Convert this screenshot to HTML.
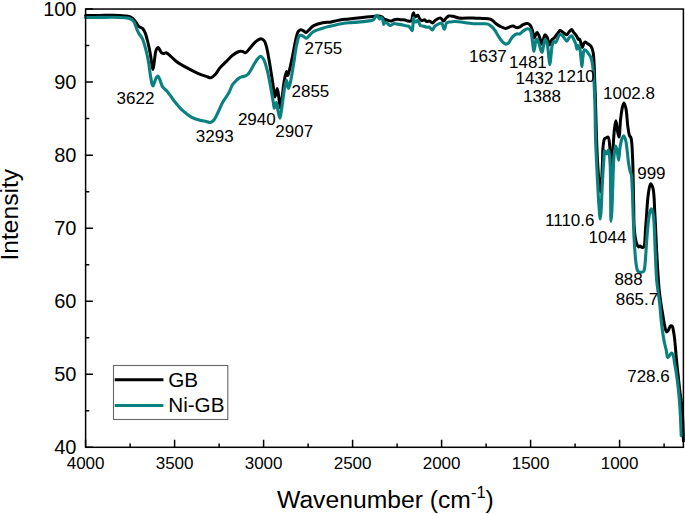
<!DOCTYPE html>
<html><head><meta charset="utf-8"><style>
html,body{margin:0;padding:0;background:#fff;}
body{width:685px;height:514px;overflow:hidden;}
svg{display:block;font-family:"Liberation Sans",sans-serif;}
</style></head><body>
<svg width="685" height="514" viewBox="0 0 685 514">
<rect width="685" height="514" fill="#fff"/>
<g fill="none" stroke-linejoin="round" stroke-linecap="round">
<path class="cv" d="M85.60,15.50 C85.60,15.50 95.40,15.45 100.00,15.40 C104.24,15.35 108.09,15.12 112.20,15.20 C116.42,15.28 121.60,15.48 125.00,15.90 C127.29,16.18 129.07,16.20 130.70,17.00 C132.24,17.75 133.52,19.19 134.60,20.40 C135.58,21.50 136.23,22.82 137.00,23.90 C137.69,24.87 138.14,25.87 139.00,26.60 C139.94,27.39 141.52,27.49 142.50,28.40 C143.61,29.43 144.33,30.95 145.10,32.70 C146.14,35.06 146.89,38.31 147.70,41.50 C148.64,45.22 149.57,49.62 150.30,53.70 C151.03,57.76 151.53,63.07 152.10,65.90 C152.41,67.43 152.70,69.41 153.00,69.40 C153.47,69.38 153.97,63.60 154.40,60.70 C154.83,57.80 155.06,54.19 155.60,52.00 C155.94,50.62 156.25,49.46 156.80,48.70 C157.19,48.16 157.75,47.52 158.20,47.60 C158.82,47.70 159.40,49.51 160.00,50.40 C160.57,51.24 161.04,52.26 161.70,52.80 C162.24,53.24 162.84,53.56 163.50,53.60 C164.28,53.65 165.17,52.64 166.10,52.80 C167.43,53.03 168.96,54.82 170.50,56.10 C172.36,57.64 174.04,59.74 176.40,61.50 C179.35,63.70 183.50,65.92 187.10,67.90 C190.63,69.84 194.40,71.83 197.80,73.30 C200.76,74.58 203.87,75.62 206.30,76.40 C208.08,76.97 209.52,77.99 211.00,77.70 C212.60,77.38 214.11,75.66 215.50,74.20 C217.11,72.50 218.20,69.93 219.90,67.90 C221.73,65.72 224.09,63.70 226.20,61.60 C228.32,59.50 230.36,57.03 232.60,55.30 C234.64,53.73 237.11,52.02 239.00,51.50 C240.32,51.14 241.51,51.25 242.60,51.50 C243.59,51.73 244.33,52.97 245.30,52.80 C246.80,52.54 248.65,49.47 250.30,47.70 C252.01,45.87 253.53,43.52 255.40,42.00 C257.12,40.61 259.39,38.76 261.00,38.80 C262.25,38.83 263.43,39.82 264.30,40.90 C265.41,42.28 265.82,44.46 266.50,46.90 C267.51,50.52 268.34,55.88 269.20,60.70 C270.14,65.97 271.03,71.77 271.90,77.30 C272.76,82.81 273.77,90.48 274.40,93.80 C274.67,95.25 274.79,96.90 275.10,96.90 C275.60,96.91 276.59,88.48 277.20,88.50 C277.79,88.52 278.23,93.50 278.70,96.40 C279.27,99.91 279.73,108.09 280.30,108.10 C280.81,108.11 281.35,102.50 281.90,98.90 C282.67,93.85 283.37,85.62 284.30,80.60 C284.97,77.02 285.88,71.51 286.50,71.50 C286.92,71.49 287.16,75.58 287.60,75.60 C288.08,75.62 288.71,72.80 289.30,70.70 C290.32,67.10 291.57,60.77 292.60,55.80 C293.63,50.84 294.43,45.29 295.50,40.90 C296.37,37.36 296.96,33.15 298.30,31.40 C299.04,30.43 300.02,29.87 300.90,29.80 C301.75,29.74 302.66,30.46 303.50,30.90 C304.36,31.35 305.19,32.55 306.00,32.50 C306.85,32.44 307.55,31.25 308.50,30.40 C309.86,29.20 311.27,27.10 313.30,25.90 C315.79,24.42 319.60,23.47 322.70,22.80 C325.60,22.18 328.44,22.38 331.30,21.90 C334.21,21.42 337.08,20.38 340.00,19.90 C342.91,19.42 345.87,19.32 348.80,19.00 C351.73,18.68 354.67,18.32 357.60,18.00 C360.51,17.68 363.58,17.38 366.30,17.10 C368.71,16.85 371.08,16.60 373.10,16.40 C374.73,16.24 376.04,15.93 377.50,16.00 C378.97,16.07 380.75,16.20 381.90,16.80 C382.86,17.30 383.25,18.47 384.10,19.00 C384.95,19.53 385.97,19.67 387.00,20.00 C388.15,20.37 389.48,21.15 390.70,21.10 C391.92,21.05 393.15,20.00 394.30,19.70 C395.30,19.44 396.17,19.30 397.20,19.30 C398.38,19.30 399.72,19.68 401.00,19.80 C402.29,19.92 403.63,19.78 404.90,20.00 C406.16,20.22 407.47,21.00 408.60,21.10 C409.53,21.18 410.55,21.37 411.20,20.80 C412.20,19.93 412.21,16.38 412.70,14.90 C413.00,13.98 413.30,12.68 413.60,12.70 C414.02,12.72 414.30,16.88 414.90,17.10 C415.22,17.22 415.59,16.66 416.00,16.40 C416.53,16.07 417.26,15.16 417.80,15.30 C418.51,15.49 418.89,17.65 419.60,18.60 C420.24,19.46 420.99,20.65 421.80,20.80 C422.56,20.94 423.48,19.62 424.30,19.70 C425.18,19.78 425.96,21.28 426.90,21.50 C427.80,21.72 428.90,20.87 429.80,21.10 C430.74,21.34 431.50,23.05 432.40,23.00 C433.46,22.94 434.43,20.83 435.70,20.00 C437.07,19.11 439.04,17.66 440.40,17.90 C441.68,18.13 442.75,21.17 443.70,21.10 C444.55,21.04 445.05,19.05 445.90,18.20 C446.75,17.35 447.67,16.34 448.80,16.00 C450.01,15.64 451.50,16.03 453.00,16.30 C454.79,16.62 456.40,17.66 458.80,18.00 C462.53,18.52 469.18,17.79 473.40,17.90 C476.65,17.98 479.17,18.20 482.00,18.40 C484.77,18.60 488.24,18.43 490.20,19.10 C491.45,19.52 492.07,20.19 493.00,20.90 C494.04,21.70 494.92,22.81 496.10,23.70 C497.44,24.72 499.12,25.81 500.70,26.60 C502.22,27.36 504.05,28.33 505.40,28.40 C506.38,28.45 507.20,28.01 508.00,27.70 C508.75,27.40 509.32,26.86 510.10,26.60 C510.97,26.31 511.97,25.98 513.00,26.10 C514.27,26.24 515.91,27.73 517.10,27.80 C518.00,27.85 518.65,27.50 519.50,27.10 C520.64,26.56 521.86,25.18 523.20,24.60 C524.53,24.02 526.27,23.41 527.50,23.60 C528.54,23.76 529.46,24.36 530.20,25.20 C531.16,26.29 531.67,28.17 532.30,30.00 C533.08,32.28 533.62,37.85 534.30,37.90 C534.73,37.93 535.11,35.81 535.60,34.90 C536.05,34.06 536.56,32.59 537.10,32.60 C537.78,32.62 538.61,34.87 539.30,36.40 C540.25,38.50 541.15,44.21 541.90,44.20 C542.51,44.19 542.93,40.54 543.50,38.90 C544.01,37.44 544.41,34.91 545.10,34.80 C545.71,34.70 546.67,36.29 547.30,37.50 C548.23,39.29 548.69,44.84 549.40,44.90 C549.86,44.94 550.32,42.83 550.80,41.90 C551.23,41.07 551.53,40.25 552.10,39.60 C552.67,38.95 553.51,38.71 554.20,38.00 C555.11,37.07 556.12,35.32 556.90,34.30 C557.46,33.56 557.89,33.04 558.40,32.40 C558.92,31.74 559.33,30.51 560.00,30.40 C560.78,30.28 561.86,31.64 562.90,32.30 C564.10,33.06 565.72,34.88 566.80,34.70 C567.78,34.54 568.37,32.70 569.20,31.80 C570.00,30.94 570.97,29.32 571.70,29.40 C572.43,29.48 572.93,31.40 573.60,32.30 C574.23,33.16 575.01,33.92 575.60,34.70 C576.12,35.39 576.55,35.95 577.00,36.70 C577.52,37.56 577.96,39.42 578.50,39.60 C578.82,39.70 579.20,38.98 579.50,39.10 C580.08,39.33 580.43,41.66 580.90,43.00 C581.40,44.42 581.90,47.40 582.40,47.40 C582.87,47.40 583.20,44.45 583.80,43.50 C584.23,42.82 584.69,42.06 585.30,42.00 C586.09,41.93 587.25,43.28 588.20,44.00 C589.18,44.74 590.33,45.28 591.10,46.40 C592.09,47.84 592.61,49.97 593.10,52.30 C593.77,55.49 593.87,60.08 594.10,63.90 C594.33,67.61 594.33,70.46 594.50,74.90 C594.76,81.73 595.21,91.92 595.50,100.90 C595.81,110.54 595.97,120.90 596.30,130.90 C596.63,140.90 596.98,151.91 597.50,160.90 C597.92,168.24 598.40,175.23 599.00,180.90 C599.45,185.12 600.07,191.91 600.50,191.90 C600.89,191.90 601.21,186.57 601.50,182.90 C601.95,177.18 602.23,167.36 602.50,160.90 C602.71,155.82 602.56,151.30 603.00,147.30 C603.36,144.09 603.65,140.00 604.60,138.70 C605.02,138.13 605.56,138.15 606.10,137.90 C606.71,137.62 607.57,136.81 608.10,137.10 C609.17,137.69 609.31,142.21 609.70,145.70 C610.29,151.00 610.26,158.74 610.50,165.90 C610.77,174.02 610.03,190.76 611.20,191.90 C611.38,192.07 611.62,192.07 611.80,191.90 C612.98,190.76 612.33,174.33 612.60,165.90 C612.86,157.92 612.99,149.59 613.40,142.60 C613.74,136.88 614.15,131.01 614.70,127.00 C615.05,124.45 615.49,120.79 615.90,120.80 C616.42,120.81 616.91,127.95 617.50,130.90 C617.97,133.23 618.57,137.13 619.00,137.10 C619.73,137.05 619.94,124.61 620.60,119.20 C621.15,114.68 621.72,109.74 622.50,106.80 C622.95,105.10 623.48,102.89 624.00,102.90 C624.61,102.91 625.36,105.99 625.90,108.40 C626.87,112.73 627.17,121.99 627.90,127.00 C628.40,130.42 628.74,133.69 629.50,135.60 C629.93,136.67 630.58,136.67 631.00,137.90 C632.14,141.24 632.23,151.24 632.60,158.20 C632.99,165.55 633.02,173.15 633.20,180.90 C633.39,189.03 633.54,198.03 633.70,205.90 C633.84,212.94 633.76,220.23 634.10,225.90 C634.35,230.12 634.70,233.72 635.20,236.90 C635.59,239.36 635.94,241.60 636.60,243.40 C637.11,244.79 637.77,246.70 638.50,246.90 C639.02,247.04 639.66,245.84 640.20,245.90 C640.77,245.96 641.19,247.24 641.80,247.40 C642.39,247.55 643.31,247.41 643.80,246.90 C644.57,246.09 644.55,243.90 644.80,241.90 C645.17,238.96 645.16,234.65 645.40,230.90 C645.65,226.99 645.93,223.61 646.30,218.90 C646.83,212.14 647.33,200.67 648.30,194.20 C648.94,189.94 649.61,183.83 650.60,183.70 C651.29,183.61 652.37,186.13 653.00,188.40 C654.37,193.30 654.26,204.01 654.80,212.90 C655.45,223.50 655.95,237.36 656.50,247.80 C656.95,256.29 657.31,263.48 657.80,270.90 C658.25,277.81 658.69,284.96 659.30,290.90 C659.79,295.71 660.42,299.97 661.00,303.90 C661.49,307.18 661.96,309.68 662.50,312.90 C663.12,316.61 663.72,321.45 664.50,324.90 C665.10,327.57 665.59,331.66 666.50,331.90 C667.07,332.05 667.89,330.74 668.50,329.90 C669.26,328.84 669.67,326.27 670.50,325.90 C671.03,325.66 671.83,325.91 672.30,326.40 C673.12,327.25 673.24,330.02 673.60,331.90 C673.98,333.85 674.23,335.75 674.50,337.90 C674.81,340.37 675.01,342.82 675.30,345.90 C675.69,350.12 676.12,355.90 676.60,360.90 C677.08,365.90 677.67,370.90 678.20,375.90 C678.73,380.90 679.25,386.41 679.80,390.90 C680.25,394.57 680.78,397.56 681.20,400.90 C681.62,404.23 682.03,407.56 682.30,410.90 C682.57,414.23 682.65,417.57 682.80,420.90 C682.95,424.23 683.10,427.57 683.20,430.90 C683.30,434.23 683.40,440.90 683.40,440.90" stroke="#000" stroke-width="3"/>
<path class="cv" d="M85.60,17.50 C85.60,17.50 95.40,17.43 100.00,17.40 C104.24,17.37 108.09,17.24 112.20,17.30 C116.42,17.37 121.79,17.50 125.00,17.80 C126.96,17.98 128.26,17.91 129.70,18.50 C131.17,19.10 132.73,20.19 133.70,21.40 C134.63,22.55 134.93,24.09 135.50,25.50 C136.10,26.98 136.58,28.69 137.20,30.10 C137.76,31.36 138.26,32.34 139.00,33.60 C139.94,35.19 141.47,36.64 142.50,38.80 C143.92,41.78 144.99,46.31 146.00,50.20 C147.03,54.18 147.88,58.31 148.60,62.40 C149.32,66.48 149.68,70.86 150.30,74.70 C150.85,78.11 151.45,82.43 152.10,84.30 C152.39,85.13 152.67,86.02 153.00,86.00 C153.50,85.97 154.12,83.14 154.70,81.70 C155.29,80.24 155.81,78.26 156.50,77.30 C156.93,76.70 157.44,76.02 157.90,76.10 C158.61,76.23 159.32,78.41 160.00,79.90 C160.90,81.85 161.35,84.95 162.60,86.90 C163.74,88.68 165.62,89.72 167.00,91.30 C168.42,92.92 169.76,94.82 171.00,96.50 C172.14,98.04 172.82,99.26 174.20,101.00 C176.32,103.67 179.80,107.93 182.80,110.70 C185.52,113.21 188.34,115.48 191.30,117.10 C194.05,118.61 197.21,119.58 199.90,120.30 C202.16,120.91 204.38,121.01 206.30,121.40 C207.88,121.72 209.27,122.71 210.60,122.40 C212.02,122.07 213.34,120.65 214.50,119.20 C216.00,117.33 217.00,114.36 218.30,111.70 C219.76,108.71 221.06,105.24 222.80,102.10 C224.61,98.84 227.30,95.62 229.00,92.50 C230.49,89.77 231.23,86.58 232.60,84.50 C233.64,82.93 234.88,81.91 236.00,80.80 C237.01,79.80 237.89,78.79 239.00,78.10 C240.07,77.44 241.39,77.06 242.50,76.70 C243.47,76.38 244.45,76.35 245.30,76.00 C246.10,75.67 246.83,75.29 247.50,74.70 C248.25,74.03 248.82,73.09 249.50,72.10 C250.32,70.91 251.20,69.38 252.00,68.00 C252.80,66.62 253.44,65.23 254.30,63.80 C255.25,62.23 256.37,60.33 257.50,59.00 C258.45,57.88 259.50,56.18 260.50,56.20 C261.53,56.22 262.69,57.83 263.60,59.30 C265.02,61.60 265.97,65.63 267.00,69.40 C268.26,74.03 269.28,79.78 270.30,85.10 C271.35,90.55 272.44,97.42 273.20,101.70 C273.68,104.40 273.85,108.26 274.40,108.30 C274.93,108.34 275.83,102.46 276.40,102.50 C277.07,102.55 277.40,108.04 278.00,110.70 C278.57,113.26 279.33,118.22 279.90,118.20 C280.50,118.18 280.94,113.27 281.50,109.90 C282.36,104.72 283.31,95.55 284.30,90.10 C285.00,86.22 285.79,80.20 286.50,80.20 C287.15,80.20 287.72,88.36 288.40,88.40 C288.94,88.43 289.53,85.68 290.10,83.50 C291.18,79.38 292.35,71.50 293.40,65.30 C294.49,58.85 295.30,50.89 296.50,45.50 C297.35,41.69 298.09,37.24 299.30,35.90 C299.82,35.32 300.38,35.19 301.00,35.20 C301.75,35.21 302.67,35.83 303.50,36.30 C304.43,36.83 305.35,38.35 306.30,38.30 C307.35,38.25 308.41,36.52 309.50,35.50 C310.73,34.35 311.60,32.79 313.30,31.70 C315.62,30.21 319.61,29.17 322.70,28.20 C325.61,27.29 328.42,26.72 331.30,26.00 C334.19,25.28 337.08,24.45 340.00,23.90 C342.91,23.35 345.86,23.00 348.80,22.70 C351.73,22.40 354.60,22.36 357.60,22.10 C360.76,21.83 364.49,21.51 367.30,21.10 C369.49,20.78 371.87,20.73 373.10,20.00 C373.88,19.54 374.06,18.88 374.60,18.20 C375.27,17.35 376.10,15.31 376.80,15.30 C377.42,15.29 378.08,16.83 378.60,17.50 C379.02,18.04 379.28,18.97 379.70,19.00 C380.14,19.03 380.71,17.49 381.20,17.50 C381.68,17.51 382.23,18.27 382.60,19.00 C383.21,20.19 383.13,24.28 383.70,24.40 C384.10,24.48 384.59,22.37 385.20,22.20 C385.72,22.05 386.34,22.61 387.00,23.00 C387.96,23.57 389.17,25.42 390.30,25.50 C391.37,25.58 392.38,23.95 393.60,23.70 C394.92,23.43 396.44,23.88 398.00,24.10 C399.81,24.35 402.24,24.82 403.80,25.20 C404.88,25.46 405.65,25.83 406.50,26.00 C407.24,26.14 407.95,25.86 408.60,26.20 C409.42,26.63 410.14,28.01 410.80,28.80 C411.35,29.45 411.90,30.73 412.30,30.60 C413.24,30.30 412.85,17.55 413.40,17.50 C413.71,17.47 413.85,20.86 414.50,21.50 C414.90,21.89 415.51,22.01 416.00,21.90 C416.61,21.77 417.23,20.28 417.80,20.40 C418.69,20.59 419.09,24.58 420.30,25.50 C421.28,26.25 422.85,25.88 424.00,26.20 C425.04,26.49 425.99,27.20 426.90,27.30 C427.67,27.39 428.35,26.77 429.10,27.00 C430.16,27.32 431.44,30.02 432.40,29.90 C433.37,29.78 433.80,27.22 434.90,26.20 C436.07,25.12 438.06,24.24 439.30,23.70 C440.14,23.33 440.83,22.71 441.50,23.00 C442.65,23.51 443.54,29.24 444.40,29.20 C445.24,29.16 445.37,24.17 446.60,23.00 C447.54,22.11 448.98,22.15 450.30,21.90 C451.76,21.62 452.92,21.46 455.00,21.50 C459.12,21.57 468.10,23.38 473.40,23.70 C477.41,23.94 481.31,23.57 484.00,23.70 C485.65,23.78 486.76,23.65 488.00,24.10 C489.27,24.56 490.39,25.52 491.50,26.50 C492.74,27.60 493.94,29.04 495.00,30.50 C496.11,32.03 496.98,33.89 498.00,35.50 C498.98,37.05 500.00,38.71 501.00,40.00 C501.83,41.08 502.60,42.10 503.50,42.80 C504.28,43.41 505.16,44.07 506.00,44.10 C506.83,44.13 507.75,43.65 508.50,43.00 C509.48,42.15 510.12,40.21 511.00,39.00 C511.80,37.90 512.56,36.84 513.50,36.00 C514.40,35.19 515.41,34.37 516.50,34.00 C517.58,33.64 518.93,34.24 520.00,33.80 C521.18,33.32 522.00,31.83 523.20,31.00 C524.48,30.11 526.23,28.73 527.50,28.70 C528.50,28.68 529.52,29.16 530.20,30.00 C531.21,31.24 531.33,33.88 531.80,36.40 C532.46,39.92 532.96,46.71 533.40,49.20 C533.58,50.24 533.71,51.40 533.90,51.40 C534.20,51.40 534.66,47.84 535.00,46.00 C535.36,44.08 535.40,41.20 536.00,40.10 C536.30,39.55 536.75,39.02 537.10,39.10 C537.68,39.22 538.17,41.33 538.70,42.80 C539.44,44.84 540.18,48.60 540.90,50.30 C541.30,51.25 541.74,52.45 542.10,52.40 C542.69,52.31 543.00,48.13 543.50,46.00 C544.00,43.86 544.38,39.75 545.10,39.60 C545.56,39.51 546.27,40.71 546.70,41.70 C547.43,43.37 547.62,46.47 548.00,49.20 C548.45,52.44 548.72,57.04 549.10,59.90 C549.36,61.82 549.63,64.71 549.90,64.70 C550.27,64.69 550.64,58.67 551.00,55.60 C551.37,52.44 551.49,48.54 552.10,46.00 C552.52,44.25 552.88,42.11 553.70,41.70 C554.26,41.41 555.19,42.58 555.80,42.30 C556.75,41.86 557.24,38.93 558.00,37.50 C558.65,36.28 559.16,34.38 560.00,34.20 C560.81,34.03 561.93,35.29 562.90,36.20 C564.19,37.41 565.68,41.13 566.80,41.10 C567.72,41.07 568.32,38.63 569.20,37.70 C569.97,36.88 570.99,35.56 571.70,35.70 C572.48,35.85 572.98,37.88 573.60,39.10 C574.29,40.46 575.05,41.90 575.60,43.50 C576.21,45.27 576.57,49.30 577.00,49.30 C577.36,49.30 577.50,45.50 578.00,45.40 C578.40,45.32 579.09,46.41 579.50,47.40 C580.31,49.36 580.50,53.86 580.90,57.10 C581.30,60.33 581.57,66.80 581.90,66.80 C582.23,66.80 582.46,60.10 582.90,57.10 C583.28,54.49 583.41,50.32 584.30,49.80 C584.71,49.56 585.29,49.95 585.80,50.30 C586.58,50.84 587.42,52.14 588.20,53.20 C589.06,54.38 590.06,55.67 590.70,57.10 C591.38,58.60 591.69,59.96 592.10,62.00 C592.75,65.28 593.19,69.94 593.60,75.00 C594.17,82.07 594.48,91.04 594.80,100.50 C595.20,112.34 595.24,129.46 595.60,140.50 C595.85,148.31 596.15,153.16 596.50,160.50 C596.93,169.49 597.48,181.51 598.00,190.50 C598.42,197.84 598.88,205.24 599.30,210.50 C599.57,213.93 599.79,218.99 600.10,219.00 C600.37,219.01 600.74,215.32 601.00,212.50 C601.47,207.34 601.64,197.66 602.00,190.50 C602.34,183.67 602.73,176.45 603.10,170.50 C603.40,165.70 603.71,161.12 604.00,157.50 C604.21,154.90 604.00,150.95 604.60,150.80 C605.05,150.69 605.97,153.94 606.60,153.90 C607.28,153.86 607.99,149.92 608.50,150.00 C609.31,150.13 609.64,156.36 610.00,160.90 C610.59,168.34 610.43,180.52 610.60,190.50 C610.77,200.71 610.63,221.49 611.00,221.50 C611.20,221.51 611.56,216.31 611.80,212.50 C612.21,205.92 612.45,194.56 612.80,185.50 C613.15,176.33 613.26,165.06 613.90,157.80 C614.32,153.06 614.77,146.18 615.50,146.10 C615.93,146.05 616.56,148.37 617.00,150.00 C617.69,152.55 618.11,160.11 618.60,160.10 C619.16,160.09 619.42,150.81 620.10,146.90 C620.65,143.71 621.28,140.29 622.10,138.30 C622.58,137.13 623.17,135.67 623.70,135.70 C624.35,135.74 625.09,138.15 625.60,139.90 C626.36,142.50 626.62,146.35 627.10,150.00 C627.66,154.28 628.08,160.07 628.70,164.00 C629.15,166.90 629.66,169.56 630.20,171.50 C630.55,172.77 631.00,173.14 631.30,174.60 C631.96,177.82 632.01,184.55 632.30,190.50 C632.67,198.10 632.88,208.01 633.20,216.50 C633.51,224.66 633.78,233.08 634.20,240.50 C634.57,246.93 635.03,253.70 635.50,258.50 C635.82,261.70 636.09,264.30 636.50,266.50 C636.79,268.07 636.95,269.54 637.50,270.50 C637.89,271.19 638.37,271.70 639.00,272.00 C639.68,272.33 640.73,272.40 641.50,272.30 C642.22,272.21 643.01,272.02 643.50,271.50 C644.09,270.87 644.22,269.81 644.50,268.50 C645.00,266.16 645.19,262.17 645.50,258.50 C645.87,254.01 646.15,248.32 646.50,243.50 C646.82,239.01 647.14,234.55 647.50,230.50 C647.81,226.95 648.07,223.74 648.50,220.50 C648.91,217.41 649.34,213.59 650.00,211.50 C650.38,210.30 650.87,208.80 651.30,208.80 C651.73,208.80 652.25,210.43 652.60,211.50 C653.05,212.89 653.25,214.58 653.50,216.50 C653.83,219.06 653.99,221.91 654.20,225.50 C654.51,230.85 654.74,239.10 655.00,245.50 C655.24,251.40 655.42,256.75 655.70,262.50 C655.99,268.42 656.21,274.99 656.70,280.50 C657.12,285.19 657.77,289.57 658.30,293.50 C658.74,296.78 659.19,298.98 659.60,302.50 C660.18,307.46 660.50,314.35 661.20,320.50 C661.94,327.00 662.98,335.00 664.00,340.50 C664.72,344.42 665.65,347.46 666.30,350.50 C666.85,353.04 666.92,357.29 667.70,357.50 C668.18,357.63 668.89,356.21 669.50,355.50 C670.16,354.72 670.86,353.04 671.50,353.00 C672.02,352.97 672.60,353.75 673.00,354.50 C673.68,355.78 673.83,358.50 674.20,360.50 C674.57,362.50 674.87,364.50 675.20,366.50 C675.53,368.50 675.87,370.35 676.20,372.50 C676.58,374.97 676.94,377.68 677.30,380.50 C677.71,383.65 678.15,387.16 678.50,390.50 C678.85,393.83 679.13,397.17 679.40,400.50 C679.67,403.83 679.90,407.17 680.10,410.50 C680.30,413.83 680.45,417.17 680.60,420.50 C680.75,423.83 680.89,427.71 681.00,430.50 C681.08,432.51 681.20,435.70 681.20,435.70" stroke="#0b8080" stroke-width="3.1"/>
</g>
<rect x="85.60" y="9.05" width="597.80" height="438.25" fill="none" stroke="#000" stroke-width="1.5"/>
<path d="M85.60,447.30 V439.80 M174.60,447.30 V439.80 M263.60,447.30 V439.80 M352.60,447.30 V439.80 M441.60,447.30 V439.80 M530.60,447.30 V439.80 M619.60,447.30 V439.80 M130.10,447.30 V443.60 M219.10,447.30 V443.60 M308.10,447.30 V443.60 M397.10,447.30 V443.60 M486.10,447.30 V443.60 M575.10,447.30 V443.60 M664.10,447.30 V443.60 M85.60,447.29 H92.90 M85.60,374.25 H92.90 M85.60,301.21 H92.90 M85.60,228.17 H92.90 M85.60,155.13 H92.90 M85.60,82.09 H92.90 M85.60,9.05 H92.90 M85.60,410.77 H89.30 M85.60,337.73 H89.30 M85.60,264.69 H89.30 M85.60,191.65 H89.30 M85.60,118.61 H89.30 M85.60,45.57 H89.30" stroke="#000" stroke-width="1.5" fill="none"/>
<g fill="#000">
<text x="76.5" y="454.49" text-anchor="end" font-size="20">40</text>
<text x="76.5" y="381.45" text-anchor="end" font-size="20">50</text>
<text x="76.5" y="308.41" text-anchor="end" font-size="20">60</text>
<text x="76.5" y="235.37" text-anchor="end" font-size="20">70</text>
<text x="76.5" y="162.33" text-anchor="end" font-size="20">80</text>
<text x="76.5" y="89.29" text-anchor="end" font-size="20">90</text>
<text x="76.5" y="16.25" text-anchor="end" font-size="20">100</text>
<text x="85.60" y="469.4" text-anchor="middle" font-size="17">4000</text>
<text x="174.60" y="469.4" text-anchor="middle" font-size="17">3500</text>
<text x="263.60" y="469.4" text-anchor="middle" font-size="17">3000</text>
<text x="352.60" y="469.4" text-anchor="middle" font-size="17">2500</text>
<text x="441.60" y="469.4" text-anchor="middle" font-size="17">2000</text>
<text x="530.60" y="469.4" text-anchor="middle" font-size="17">1500</text>
<text x="619.60" y="469.4" text-anchor="middle" font-size="17">1000</text>
<text x="116.6" y="103.5" font-size="17">3622</text>
<text x="195.8" y="141.7" font-size="17">3293</text>
<text x="237.9" y="124.5" font-size="17">2940</text>
<text x="275.3" y="137.2" font-size="17">2907</text>
<text x="291.5" y="96.9" font-size="17">2855</text>
<text x="304.5" y="53.5" font-size="17">2755</text>
<text x="469.0" y="61.6" font-size="17">1637</text>
<text x="509.0" y="68.1" font-size="17">1481</text>
<text x="515.6" y="83.9" font-size="17">1432</text>
<text x="557.0" y="82.3" font-size="17">1210</text>
<text x="523.1" y="102.0" font-size="17">1388</text>
<text x="603.0" y="98.7" font-size="17">1002.8</text>
<text x="637.2" y="178.5" font-size="17">999</text>
<text x="545.0" y="226.4" font-size="17">1110.6</text>
<text x="588.6" y="243.2" font-size="17">1044</text>
<text x="614.4" y="285.2" font-size="17">888</text>
<text x="615.7" y="305.0" font-size="17">865.7</text>
<text x="627.2" y="382.2" font-size="17">728.6</text>
</g>
<text x="18" y="214.7" font-size="24.6" transform="rotate(-90 18 214.7)" text-anchor="middle">Intensity</text>
<text x="277" y="507.6" font-size="24.7">Wavenumber (cm<tspan dy="-9.8" font-size="16.5">-1</tspan><tspan dy="9.8">)</tspan></text>
<rect x="113.5" y="365.5" width="114.3" height="54" fill="#fff" stroke="#666" stroke-width="1.1"/>
<path d="M114.7,379.7 H163.4" stroke="#000" stroke-width="3"/>
<path d="M114.7,405.5 H163.4" stroke="#0b8080" stroke-width="3"/>
<text x="168.2" y="386.7" font-size="20.7">GB</text>
<text x="168.2" y="412" font-size="20.7">Ni-GB</text>
</svg>
</body></html>
